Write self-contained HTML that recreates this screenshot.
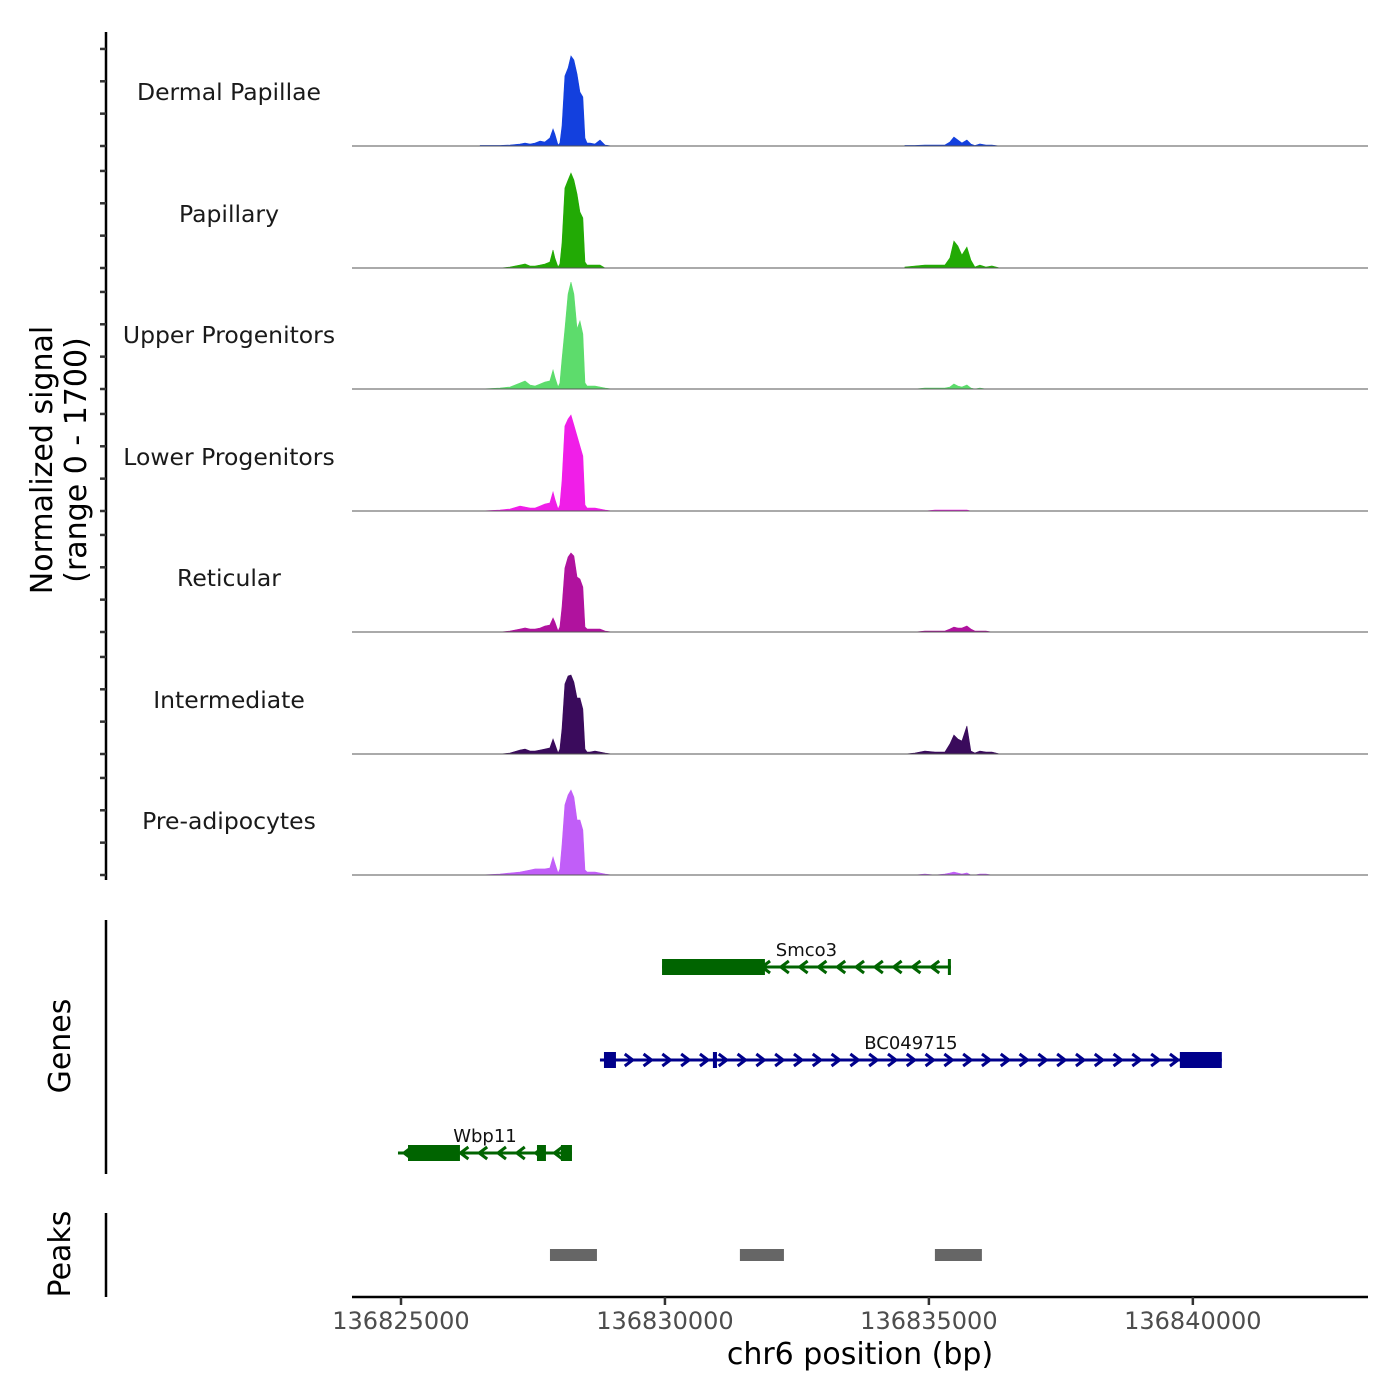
<!DOCTYPE html>
<html><head><meta charset="utf-8">
<style>
html,body{margin:0;padding:0;background:#fff;}
svg{display:block;font-family:"DejaVu Sans","Liberation Sans",sans-serif;}
</style></head>
<body>
<svg id="chart" width="1400" height="1400" viewBox="0 0 1400 1400">
<g id="tracks"></g>
<g id="genes"></g>
<g id="peaks"></g>
<g id="axes"></g>
</svg>
<script>
const regionStart = 136824072, regionEnd = 136843318;
const trackNames = ["Dermal Papillae","Papillary","Upper Progenitors","Lower Progenitors","Reticular","Intermediate","Pre-adipocytes"];
const trackColors = ["#1340de","#22aa05","#5ddc6c","#f01ee8","#b0129e","#3a0b5c","#c15ef8"];
const positions = [136826500,136826875,136827065,136827255,136827350,136827445,136827540,136827635,136827725,136827820,136827880,136827915,136827975,136828010,136828050,136828105,136828165,136828220,136828275,136828335,136828390,136828445,136828485,136828525,136828580,136828675,136828770,136828865,136829000,
136834545,136834735,136834924,136835114,136835303,136835398,136835474,136835549,136835625,136835720,136835795,136835871,136835966,136836080,136836193,136836345];
const dermalValues = [8,8,15,31,46,31,46,77,62,124,263,185,15,46,309,1082,1205,1391,1329,1112,834,757,124,46,46,31,93,15,0, 8,8,15,15,15,62,139,93,46,93,31,8,31,15,15,0];
const papillaryValues = [0,0,15,46,62,31,31,46,62,93,278,155,15,62,386,1236,1360,1468,1360,1143,865,773,93,46,46,46,46,0,0, 15,31,46,46,46,155,417,340,200,324,124,15,46,15,31,0];
const upperValues = [0,15,31,93,124,62,46,77,108,124,294,185,31,93,463,927,1468,1653,1468,927,1051,850,93,46,46,46,31,15,0, 0,0,15,15,15,31,77,46,31,62,15,0,15,0,0,0];
const lowerValues = [0,15,31,77,62,46,46,77,108,124,294,185,31,93,463,1313,1421,1483,1329,1159,1004,850,93,46,46,46,31,15,0, 0,0,0,15,15,15,15,15,15,15,0,0,0,0,0,0];
const reticularValues = [0,0,15,46,62,46,46,62,93,108,216,155,15,77,386,989,1159,1221,1174,850,819,695,77,46,46,46,46,15,0, 0,0,15,15,15,46,77,62,62,93,46,15,15,15,0,0];
const intermediateValues = [0,0,15,62,77,46,46,62,77,93,232,155,15,77,386,1082,1205,1221,1112,865,865,695,77,31,31,46,31,15,0, 0,15,46,31,31,155,294,232,200,433,46,15,46,31,31,0];
const preadipoValues = [0,15,31,46,62,77,93,93,93,108,278,185,31,93,463,1082,1236,1313,1205,850,850,695,77,46,46,46,31,15,0, 0,0,15,0,15,31,46,31,15,31,0,0,15,15,0,0];
const yTickValues = [0,500,1000,1500];
const xTickValues = [136825000,136830000,136835000,136840000];
const xTickLabels = ["136825000","136830000","136835000","136840000"];
const geneNames = ["Smco3","BC049715","Wbp11"];
const geneStarts = [136829945,136828769,136824943];
const geneEnds = [136835417,136840549,136828239];
const geneStrands = ["-","+","-"];
const geneColors = ["#006400","#00008b","#006400"];
const geneExons = [
  [[136829945,136831894],[136835360,136835417]],
  [[136828845,136829072],[136830909,136830985],[136839754,136840549]],
  [[136825133,136826117],[136827576,136827746],[136828030,136828239]]
];
const peakStarts = [136827822,136831420,136835114];
const peakEnds = [136828712,136832254,136836004];

const NS = "http://www.w3.org/2000/svg";
const X0 = 352, X1 = 1368;
function xs(bp){ return X0 + (bp - regionStart) / (regionEnd - regionStart) * (X1 - X0); }
const trackBase = [146,268,389,511,632,754,875];
function ys(v, i){ return trackBase[i] - v / 1700 * 110; }
function mk(tag, attrs, parent){
  const e = document.createElementNS(NS, tag);
  for (const k in attrs) e.setAttribute(k, attrs[k]);
  parent.appendChild(e); return e;
}
const allValues = [dermalValues,papillaryValues,upperValues,lowerValues,reticularValues,intermediateValues,preadipoValues];
const gT = document.getElementById('tracks');
allValues.forEach((vals, i) => {
  let d = `M${X0},${trackBase[i]} L${xs(positions[0])},${trackBase[i]}`;
  for (let j = 0; j < positions.length; j++) {
    if (j > 0 && positions[j] - positions[j-1] > 2000) {
      d += ` L${xs(positions[j])},${trackBase[i]}`;
    }
    d += ` L${xs(positions[j]).toFixed(2)},${ys(vals[j], i).toFixed(2)}`;
  }
  d += ` L${X1},${trackBase[i]} Z`;
  const p = mk('path', {d: d, fill: trackColors[i], stroke: trackColors[i], 'stroke-width': 0.6}, gT);
  
  
  const bl = mk('line', {x1: X0, x2: X1, y1: trackBase[i], y2: trackBase[i], stroke: '#555', 'stroke-width': 1}, gT);
  
  
  const t = mk('text', {x: 229, y: trackBase[i] - 46, 'text-anchor': 'middle', 'font-size': 23.5, fill: '#1a1a1a'}, gT);
  t.textContent = trackNames[i];
  
  
});

const gG = document.getElementById('genes');
const geneY = [967,1060,1153];
geneNames.forEach((name, i) => {
  const y = geneY[i], c = geneColors[i];
  const a = xs(geneStarts[i]), b = xs(geneEnds[i]);
  const g = mk('g', {}, gG);
  
  
  mk('line', {x1: a, x2: b, y1: y, y2: y, stroke: c, 'stroke-width': 3}, g);
  for (let x = a + 10; x < b - 4; x += 18.8) {
    const dx = geneStrands[i] === '+' ? -4 : 4;
    mk('path', {d: `M${x+dx},${y-6} L${x-dx},${y} L${x+dx},${y+6}`, fill: 'none', stroke: c, 'stroke-width': 3}, g);
  }
  geneExons[i].forEach(ex => {
    const ea = xs(ex[0]), eb = xs(ex[1]);
    mk('rect', {x: ea, y: y - 8, width: Math.max(3, eb - ea), height: 16, fill: c}, g);
  });
  const t = mk('text', {x: (a + b) / 2, y: y - 11, 'text-anchor': 'middle', 'font-size': 18, fill: '#111'}, g);
  t.textContent = name;
});

const gP = document.getElementById('peaks');
peakStarts.forEach((s, i) => {
  const r = mk('rect', {x: xs(s), y: 1249, width: xs(peakEnds[i]) - xs(s), height: 12, fill: '#666'}, gP);
  
  
});

const gA = document.getElementById('axes');
[[32,880],[920,1174],[1213,1297]].forEach(([a,b]) => {
  const l = mk('line', {x1: 106, x2: 106, y1: a, y2: b, stroke: '#000', 'stroke-width': 2.5}, gA);
  
  
});
trackBase.forEach((b, i) => {
  yTickValues.forEach(v => {
    const yy = ys(v, i);
    const tk = mk('line', {x1: 100, x2: 106, y1: yy, y2: yy, stroke: '#333', 'stroke-width': 2.5}, gA);
    
    
  });
});
const xl = mk('line', {x1: X0, x2: X1, y1: 1297, y2: 1297, stroke: '#000', 'stroke-width': 2.5}, gA);


xTickValues.forEach((v, i) => {
  const x = xs(v);
  const tk = mk('line', {x1: x, x2: x, y1: 1297, y2: 1305, stroke: '#333', 'stroke-width': 2.5}, gA);
  
  
  const t = mk('text', {x: x, y: 1329, 'text-anchor': 'middle', 'font-size': 24, fill: '#4d4d4d'}, gA);
  t.textContent = xTickLabels[i];
  
  
});
</script>
<div style="position:absolute;left:0;top:0;width:1400px;height:1400px;pointer-events:none">
<svg width="1400" height="1400" style="font-family:'DejaVu Sans','Liberation Sans',sans-serif">
<text x="860" y="1364" text-anchor="middle" font-size="30" fill="#000">chr6 position (bp)</text>
<text transform="translate(52,460) rotate(-90)" text-anchor="middle" font-size="30" fill="#000">Normalized signal</text>
<text transform="translate(86,460) rotate(-90)" text-anchor="middle" font-size="30" fill="#000">(range 0 - 1700)</text>
<text transform="translate(70,1046) rotate(-90)" text-anchor="middle" font-size="30" fill="#000">Genes</text>
<text transform="translate(70,1254) rotate(-90)" text-anchor="middle" font-size="30" fill="#000">Peaks</text>
</svg>
</div>
</body></html>
